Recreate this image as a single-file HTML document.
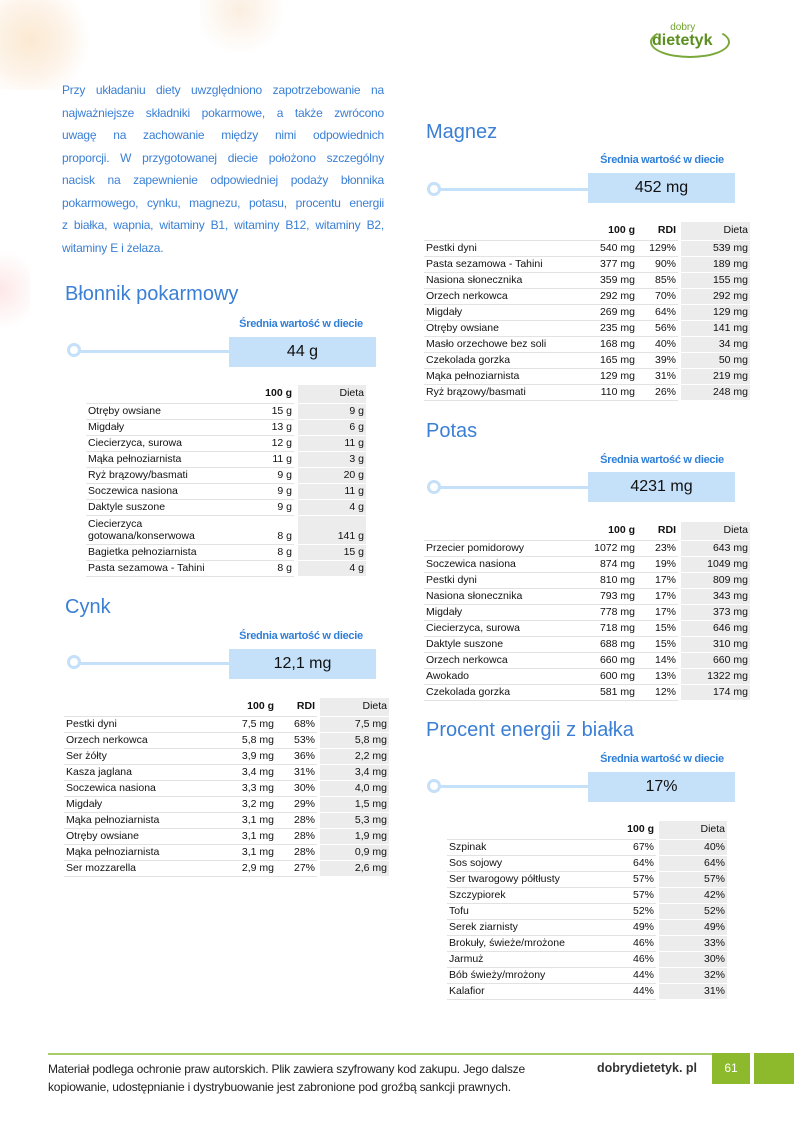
<!DOCTYPE html>
<html><head><meta charset="utf-8">
<style>
*{margin:0;padding:0;box-sizing:border-box}
body{width:794px;height:1123px;position:relative;background:#fff;font-family:"Liberation Sans",sans-serif;color:#111;overflow:hidden}
.a{position:absolute}
.intro{left:62px;top:79px;width:322px;font-size:12px;line-height:22.5px;color:#3a7fd5;letter-spacing:-0.2px}
.intro div{text-align:justify;text-align-last:justify;white-space:nowrap;height:22.5px}
.intro div.l{text-align-last:left}
.h{font-size:20px;color:#3a7fd5;font-weight:normal}
.sr{font-size:11px;color:#2f7fd8;text-align:center;width:148px;font-weight:bold;letter-spacing:-0.3px}
.bar{background:#c5e0f9;height:30px;width:147px;text-align:center;font-size:16px;line-height:30px;color:#111}
.line{height:3px;background:#c5e0f9}
.circ{width:14px;height:14px;border:3px solid #c5e0f9;border-radius:50%;background:#fff}
table{border-collapse:collapse;font-size:10.5px;position:absolute;table-layout:fixed}
td{height:16px;padding:0 2px;white-space:nowrap;border-bottom:1px solid #e2e2e2;line-height:15px;overflow:hidden}
tr.hd td{font-weight:bold;height:18px}
td.r{text-align:right}
td.g{border-bottom:0}
td.d{background:#ececec;text-align:right;border-bottom:1px solid #fff}
tr.hd td.d{font-weight:normal}
.foot{font-size:12px;color:#222;line-height:18px;letter-spacing:-0.2px}
</style></head><body>
<div class="a" style="left:0;top:0;width:130px;height:90px;background:radial-gradient(circle at 30px 40px,#fbe9d2 0,#fdf3e8 35px,#fff 60px)"></div>
<div class="a" style="left:200px;top:0;width:180px;height:60px;background:radial-gradient(circle at 40px 10px,#fbeee0 0,#fff 45px)"></div>
<div class="a" style="left:0;top:230px;width:30px;height:120px;background:radial-gradient(circle at 0 60px,#fde7e7 0,#fff 40px)"></div>
<div class="a" style="left:648px;top:22px;font-size:10px;color:#6fa12e">&nbsp;&nbsp;&nbsp;&nbsp;&nbsp;&nbsp;&nbsp;&nbsp;dobry</div>
<div class="a" style="left:652px;top:32px;font-size:16px;font-weight:bold;color:#5b8f1f">dietetyk</div>
<div class="a" style="left:650px;top:26px;width:80px;height:32px;border:2px solid #7aa83a;border-radius:50%;border-top-color:transparent"></div>

<div class="a intro">
<div>Przy układaniu diety uwzględniono zapotrzebowanie na</div>
<div>najważniejsze składniki pokarmowe, a także zwrócono</div>
<div>uwagę na zachowanie między nimi odpowiednich</div>
<div>proporcji. W przygotowanej diecie położono szczególny</div>
<div>nacisk na zapewnienie odpowiedniej podaży błonnika</div>
<div>pokarmowego, cynku, magnezu, potasu, procentu energii</div>
<div>z białka, wapnia, witaminy B1, witaminy B12, witaminy B2,</div>
<div class="l">witaminy E i żelaza.</div>
</div>

<!-- Blonnik -->
<div class="a h" style="left:65px;top:283px">Błonnik pokarmowy</div>
<div class="a sr" style="left:227px;top:318px">Średnia wartość w diecie</div>
<div class="a line" style="left:75px;top:350px;width:155px"></div>
<div class="a circ" style="left:67px;top:343px"></div>
<div class="a bar" style="left:229px;top:337px">44 g</div>
<table style="left:86px;top:385px;width:280px">
<col style="width:164px"><col style="width:44px"><col style="width:4px"><col style="width:68px">
<tr class="hd"><td></td><td class="r">100 g</td><td class="g"></td><td class="d">Dieta</td></tr>
<tr><td>Otręby owsiane</td><td class="r">15 g</td><td class="g"></td><td class="d">9 g</td></tr>
<tr><td>Migdały</td><td class="r">13 g</td><td class="g"></td><td class="d">6 g</td></tr>
<tr><td>Ciecierzyca, surowa</td><td class="r">12 g</td><td class="g"></td><td class="d">11 g</td></tr>
<tr><td>Mąka pełnoziarnista</td><td class="r">11 g</td><td class="g"></td><td class="d">3 g</td></tr>
<tr><td>Ryż brązowy/basmati</td><td class="r">9 g</td><td class="g"></td><td class="d">20 g</td></tr>
<tr><td>Soczewica nasiona</td><td class="r">9 g</td><td class="g"></td><td class="d">11 g</td></tr>
<tr><td>Daktyle suszone</td><td class="r">9 g</td><td class="g"></td><td class="d">4 g</td></tr>
<tr><td style="height:29px;line-height:12px">Ciecierzyca<br>gotowana/konserwowa</td><td class="r" style="vertical-align:bottom">8 g</td><td class="g"></td><td class="d" style="vertical-align:bottom">141 g</td></tr>
<tr><td>Bagietka pełnoziarnista</td><td class="r">8 g</td><td class="g"></td><td class="d">15 g</td></tr>
<tr><td>Pasta sezamowa - Tahini</td><td class="r">8 g</td><td class="g"></td><td class="d">4 g</td></tr>
</table>

<!-- Cynk -->
<div class="a h" style="left:65px;top:596px">Cynk</div>
<div class="a sr" style="left:227px;top:630px">Średnia wartość w diecie</div>
<div class="a line" style="left:75px;top:662px;width:155px"></div>
<div class="a circ" style="left:67px;top:655px"></div>
<div class="a bar" style="left:229px;top:649px">12,1 mg</div>
<table style="left:64px;top:698px;width:325px">
<col style="width:162px"><col style="width:50px"><col style="width:41px"><col style="width:3px"><col style="width:69px">
<tr class="hd"><td></td><td class="r">100 g</td><td class="r">RDI</td><td class="g"></td><td class="d">Dieta</td></tr>
<tr><td>Pestki dyni</td><td class="r">7,5 mg</td><td class="r">68%</td><td class="g"></td><td class="d">7,5 mg</td></tr>
<tr><td>Orzech nerkowca</td><td class="r">5,8 mg</td><td class="r">53%</td><td class="g"></td><td class="d">5,8 mg</td></tr>
<tr><td>Ser żółty</td><td class="r">3,9 mg</td><td class="r">36%</td><td class="g"></td><td class="d">2,2 mg</td></tr>
<tr><td>Kasza jaglana</td><td class="r">3,4 mg</td><td class="r">31%</td><td class="g"></td><td class="d">3,4 mg</td></tr>
<tr><td>Soczewica nasiona</td><td class="r">3,3 mg</td><td class="r">30%</td><td class="g"></td><td class="d">4,0 mg</td></tr>
<tr><td>Migdały</td><td class="r">3,2 mg</td><td class="r">29%</td><td class="g"></td><td class="d">1,5 mg</td></tr>
<tr><td>Mąka pełnoziarnista</td><td class="r">3,1 mg</td><td class="r">28%</td><td class="g"></td><td class="d">5,3 mg</td></tr>
<tr><td>Otręby owsiane</td><td class="r">3,1 mg</td><td class="r">28%</td><td class="g"></td><td class="d">1,9 mg</td></tr>
<tr><td>Mąka pełnoziarnista</td><td class="r">3,1 mg</td><td class="r">28%</td><td class="g"></td><td class="d">0,9 mg</td></tr>
<tr><td>Ser mozzarella</td><td class="r">2,9 mg</td><td class="r">27%</td><td class="g"></td><td class="d">2,6 mg</td></tr>
</table>

<!-- Magnez -->
<div class="a h" style="left:426px;top:121px">Magnez</div>
<div class="a sr" style="left:588px;top:154px">Średnia wartość w diecie</div>
<div class="a line" style="left:435px;top:188px;width:155px"></div>
<div class="a circ" style="left:427px;top:182px"></div>
<div class="a bar" style="left:588px;top:173px">452 mg</div>
<table style="left:424px;top:222px;width:326px">
<col style="width:166px"><col style="width:47px"><col style="width:41px"><col style="width:3px"><col style="width:69px">
<tr class="hd"><td></td><td class="r">100 g</td><td class="r">RDI</td><td class="g"></td><td class="d">Dieta</td></tr>
<tr><td>Pestki dyni</td><td class="r">540 mg</td><td class="r">129%</td><td class="g"></td><td class="d">539 mg</td></tr>
<tr><td>Pasta sezamowa - Tahini</td><td class="r">377 mg</td><td class="r">90%</td><td class="g"></td><td class="d">189 mg</td></tr>
<tr><td>Nasiona słonecznika</td><td class="r">359 mg</td><td class="r">85%</td><td class="g"></td><td class="d">155 mg</td></tr>
<tr><td>Orzech nerkowca</td><td class="r">292 mg</td><td class="r">70%</td><td class="g"></td><td class="d">292 mg</td></tr>
<tr><td>Migdały</td><td class="r">269 mg</td><td class="r">64%</td><td class="g"></td><td class="d">129 mg</td></tr>
<tr><td>Otręby owsiane</td><td class="r">235 mg</td><td class="r">56%</td><td class="g"></td><td class="d">141 mg</td></tr>
<tr><td>Masło orzechowe bez soli</td><td class="r">168 mg</td><td class="r">40%</td><td class="g"></td><td class="d">34 mg</td></tr>
<tr><td>Czekolada gorzka</td><td class="r">165 mg</td><td class="r">39%</td><td class="g"></td><td class="d">50 mg</td></tr>
<tr><td>Mąka pełnoziarnista</td><td class="r">129 mg</td><td class="r">31%</td><td class="g"></td><td class="d">219 mg</td></tr>
<tr><td>Ryż brązowy/basmati</td><td class="r">110 mg</td><td class="r">26%</td><td class="g"></td><td class="d">248 mg</td></tr>
</table>

<!-- Potas -->
<div class="a h" style="left:426px;top:420px">Potas</div>
<div class="a sr" style="left:588px;top:454px">Średnia wartość w diecie</div>
<div class="a line" style="left:435px;top:486px;width:155px"></div>
<div class="a circ" style="left:427px;top:480px"></div>
<div class="a bar" style="left:588px;top:472px">4231 mg</div>
<table style="left:424px;top:522px;width:326px">
<col style="width:166px"><col style="width:47px"><col style="width:41px"><col style="width:3px"><col style="width:69px">
<tr class="hd"><td></td><td class="r">100 g</td><td class="r">RDI</td><td class="g"></td><td class="d">Dieta</td></tr>
<tr><td>Przecier pomidorowy</td><td class="r">1072 mg</td><td class="r">23%</td><td class="g"></td><td class="d">643 mg</td></tr>
<tr><td>Soczewica nasiona</td><td class="r">874 mg</td><td class="r">19%</td><td class="g"></td><td class="d">1049 mg</td></tr>
<tr><td>Pestki dyni</td><td class="r">810 mg</td><td class="r">17%</td><td class="g"></td><td class="d">809 mg</td></tr>
<tr><td>Nasiona słonecznika</td><td class="r">793 mg</td><td class="r">17%</td><td class="g"></td><td class="d">343 mg</td></tr>
<tr><td>Migdały</td><td class="r">778 mg</td><td class="r">17%</td><td class="g"></td><td class="d">373 mg</td></tr>
<tr><td>Ciecierzyca, surowa</td><td class="r">718 mg</td><td class="r">15%</td><td class="g"></td><td class="d">646 mg</td></tr>
<tr><td>Daktyle suszone</td><td class="r">688 mg</td><td class="r">15%</td><td class="g"></td><td class="d">310 mg</td></tr>
<tr><td>Orzech nerkowca</td><td class="r">660 mg</td><td class="r">14%</td><td class="g"></td><td class="d">660 mg</td></tr>
<tr><td>Awokado</td><td class="r">600 mg</td><td class="r">13%</td><td class="g"></td><td class="d">1322 mg</td></tr>
<tr><td>Czekolada gorzka</td><td class="r">581 mg</td><td class="r">12%</td><td class="g"></td><td class="d">174 mg</td></tr>
</table>

<!-- Procent -->
<div class="a h" style="left:426px;top:719px">Procent energii z białka</div>
<div class="a sr" style="left:588px;top:753px">Średnia wartość w diecie</div>
<div class="a line" style="left:435px;top:785px;width:155px"></div>
<div class="a circ" style="left:427px;top:779px"></div>
<div class="a bar" style="left:588px;top:772px">17%</div>
<table style="left:447px;top:821px;width:280px">
<col style="width:166px"><col style="width:43px"><col style="width:3px"><col style="width:68px">
<tr class="hd"><td></td><td class="r">100 g</td><td class="g"></td><td class="d">Dieta</td></tr>
<tr><td>Szpinak</td><td class="r">67%</td><td class="g"></td><td class="d">40%</td></tr>
<tr><td>Sos sojowy</td><td class="r">64%</td><td class="g"></td><td class="d">64%</td></tr>
<tr><td>Ser twarogowy półtłusty</td><td class="r">57%</td><td class="g"></td><td class="d">57%</td></tr>
<tr><td>Szczypiorek</td><td class="r">57%</td><td class="g"></td><td class="d">42%</td></tr>
<tr><td>Tofu</td><td class="r">52%</td><td class="g"></td><td class="d">52%</td></tr>
<tr><td>Serek ziarnisty</td><td class="r">49%</td><td class="g"></td><td class="d">49%</td></tr>
<tr><td>Brokuły, świeże/mrożone</td><td class="r">46%</td><td class="g"></td><td class="d">33%</td></tr>
<tr><td>Jarmuż</td><td class="r">46%</td><td class="g"></td><td class="d">30%</td></tr>
<tr><td>Bób świeży/mrożony</td><td class="r">44%</td><td class="g"></td><td class="d">32%</td></tr>
<tr><td>Kalafior</td><td class="r">44%</td><td class="g"></td><td class="d">31%</td></tr>
</table>

<!-- footer -->
<div class="a" style="left:48px;top:1053px;width:664px;height:2px;background:#a8cc6a"></div>
<div class="a foot" style="left:48px;top:1060px">Materiał podlega ochronie praw autorskich. Plik zawiera szyfrowany kod zakupu. Jego dalsze<br>kopiowanie, udostępnianie i dystrybuowanie jest zabronione pod groźbą sankcji prawnych.</div>
<div class="a" style="left:597px;top:1061px;font-size:12.5px;font-weight:bold;color:#333">dobrydietetyk. pl</div>
<div class="a" style="left:712px;top:1053px;width:38px;height:31px;background:#8dba2c;color:#fff;font-size:12px;text-align:center;line-height:31px">61</div>
<div class="a" style="left:754px;top:1053px;width:40px;height:31px;background:#8dba2c"></div>
</body></html>
